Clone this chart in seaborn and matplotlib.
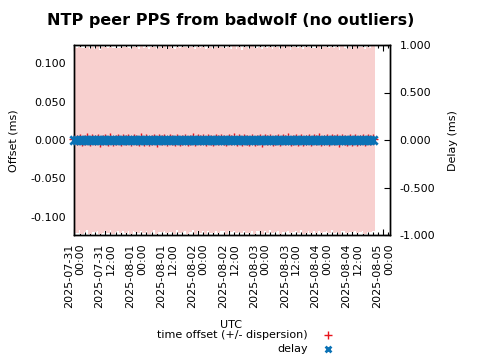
import matplotlib
matplotlib.use("Agg")
import matplotlib.pyplot as plt
import matplotlib.dates as mdates
import numpy as np
import pandas as pd
import seaborn as sns

# samples every hour, UTC
start_time = "2025-07-31 00:00"
n_samples = 117

offset_ms = [
    0.0011, -0.0006, 0.0019, -0.0014, 0.0004, 0.0022, -0.0019, 0.0008, -0.0003, 0.0015,
    -0.0021, 0.0006, 0.0013, -0.0009, 0.0020, -0.0016, 0.0002, 0.0010, -0.0012, 0.0017,
    -0.0005, 0.0009, -0.0018, 0.0014, 0.0003, -0.0011, 0.0021, -0.0007, 0.0012, -0.0015,
    0.0005, 0.0018, -0.0020, 0.0007, -0.0002, 0.0016, -0.0013, 0.0010, 0.0001, -0.0017,
    0.0019, -0.0008, 0.0006, 0.0013, -0.0010, 0.0003, 0.0020, -0.0014, 0.0008, -0.0004,
    0.0015, -0.0019, 0.0011, 0.0002, -0.0012, 0.0017, -0.0006, 0.0009, 0.0004, -0.0016,
    0.0012, -0.0003, 0.0021, -0.0010, 0.0007, -0.0018, 0.0014, 0.0000, -0.0009, 0.0018,
    -0.0013, 0.0005, 0.0016, -0.0020, 0.0010, -0.0004, 0.0019, -0.0011, 0.0003, 0.0013,
    -0.0017, 0.0008, -0.0001, 0.0020, -0.0015, 0.0006, 0.0011, -0.0008, 0.0017, -0.0019,
    0.0002, 0.0014, -0.0012, 0.0009, -0.0006, 0.0022, -0.0014, 0.0004, 0.0012, -0.0010,
    0.0018, -0.0003, 0.0007, -0.0021, 0.0015, 0.0001, -0.0016, 0.0010, -0.0007, 0.0019,
    -0.0012, 0.0005, 0.0013, -0.0018, 0.0008, -0.0002, 0.0016,
]
dispersion_ms = [
    0.1195, 0.1201, 0.1188, 0.1204, 0.1197, 0.1192, 0.1206, 0.1199, 0.1190, 0.1203,
    0.1196, 0.1208, 0.1193, 0.1200, 0.1187, 0.1205, 0.1198, 0.1191, 0.1202, 0.1194,
    0.1207, 0.1189, 0.1200, 0.1196, 0.1203, 0.1192, 0.1198, 0.1205, 0.1190, 0.1201,
    0.1197, 0.1186, 0.1204, 0.1199, 0.1193, 0.1202, 0.1195, 0.1208, 0.1191, 0.1200,
    0.1188, 0.1203, 0.1197, 0.1194, 0.1206, 0.1199, 0.1189, 0.1202, 0.1196, 0.1204,
    0.1192, 0.1200, 0.1187, 0.1205, 0.1198, 0.1193, 0.1201, 0.1195, 0.1190, 0.1206,
    0.1199, 0.1191, 0.1204, 0.1196, 0.1202, 0.1188, 0.1200, 0.1207, 0.1194, 0.1198,
    0.1203, 0.1190, 0.1197, 0.1205, 0.1192, 0.1201, 0.1186, 0.1199, 0.1204, 0.1195,
    0.1200, 0.1208, 0.1193, 0.1197, 0.1189, 0.1202, 0.1196, 0.1206, 0.1191, 0.1199,
    0.1204, 0.1194, 0.1201, 0.1187, 0.1198, 0.1205, 0.1192, 0.1200, 0.1196, 0.1203,
    0.1190, 0.1199, 0.1207, 0.1195, 0.1202, 0.1188, 0.1197, 0.1204, 0.1193, 0.1200,
    0.1196, 0.1203, 0.1191, 0.1198, 0.1205, 0.1194, 0.1201,
]
delay_ms = [
    0.0, 0.0, 0.0, 0.0, 0.0, 0.0, 0.0, 0.0, 0.0, 0.0,
    0.0, 0.0, 0.0, 0.0, 0.0, 0.0, 0.0, 0.0, 0.0, 0.0,
    0.0, 0.0, 0.0, 0.0, 0.0, 0.0, 0.0, 0.0, 0.0, 0.0,
    0.0, 0.0, 0.0, 0.0, 0.0, 0.0, 0.0, 0.0, 0.0, 0.0,
    0.0, 0.0, 0.0, 0.0, 0.0, 0.0, 0.0, 0.0, 0.0, 0.0,
    0.0, 0.0, 0.0, 0.0, 0.0, 0.0, 0.0, 0.0, 0.0, 0.0,
    0.0, 0.0, 0.0, 0.0, 0.0, 0.0, 0.0, 0.0, 0.0, 0.0,
    0.0, 0.0, 0.0, 0.0, 0.0, 0.0, 0.0, 0.0, 0.0, 0.0,
    0.0, 0.0, 0.0, 0.0, 0.0, 0.0, 0.0, 0.0, 0.0, 0.0,
    0.0, 0.0, 0.0, 0.0, 0.0, 0.0, 0.0, 0.0, 0.0, 0.0,
    0.0, 0.0, 0.0, 0.0, 0.0, 0.0, 0.0, 0.0, 0.0, 0.0,
    0.0, 0.0, 0.0, 0.0, 0.0, 0.0, 0.0,
]

times = pd.date_range(start_time, periods=n_samples, freq="1h")
x = mdates.date2num(times.to_pydatetime())
df = pd.DataFrame({"x": x, "offset": offset_ms, "disp": dispersion_ms, "delay": delay_ms})

sns.set_style("ticks")
plt.rcParams.update({
    "font.family": ["DejaVu Sans"],
    "font.size": 8,
    "axes.edgecolor": "black",
    "text.color": "black",
    "xtick.color": "black",
    "ytick.color": "black",
    "axes.linewidth": 1.0,
})

fig = plt.figure(figsize=(4.8, 3.6), dpi=100)
ax = fig.add_axes([74 / 480, 1 - 235 / 360, 316 / 480, 190 / 360])
ax2 = ax.twinx()

# dispersion band
ax.bar(df["x"], 2 * df["disp"], bottom=df["offset"] - df["disp"], width=1.3 / 24,
       color="#f8d0cf", linewidth=0, zorder=1)
sns.scatterplot(data=df, x="x", y="offset", ax=ax, marker="+", color="#e8141c",
                s=55, linewidth=1.0, zorder=2, clip_on=False,
                label="time offset (+/- dispersion)", legend=False)
sns.scatterplot(data=df, x="x", y="delay", ax=ax2, marker="x", color="#0b72b5",
                s=36, linewidth=2.0, zorder=3, clip_on=False, label="delay", legend=False)

ax.set_xlim(mdates.date2num(pd.Timestamp("2025-07-30 23:50")),
            mdates.date2num(pd.Timestamp("2025-08-05 02:40")))
ax.set_ylim(-0.1234, 0.1234)
ax2.set_ylim(-1.0, 1.0)

ax.xaxis.set_major_locator(mdates.HourLocator(byhour=[0, 12]))
ax.xaxis.set_minor_locator(mdates.HourLocator(byhour=range(0, 24, 2)))
ax.xaxis.set_major_formatter(mdates.DateFormatter("%Y-%m-%d\n%H:%M"))
ax.set_yticks([-0.1, -0.05, 0.0, 0.05, 0.1])
ax.yaxis.set_major_formatter(matplotlib.ticker.FormatStrFormatter("%.3f"))
ax2.set_yticks([-1.0, -0.5, 0.0, 0.5, 1.0])
ax2.yaxis.set_major_formatter(matplotlib.ticker.FormatStrFormatter("%.3f"))

ax.tick_params(axis="x", which="both", direction="in", top=True, bottom=True,
               labelrotation=90, pad=6)
ax.tick_params(axis="x", which="major", length=4, width=0.8)
ax.tick_params(axis="x", which="minor", length=2, width=0.8)
ax.tick_params(axis="y", direction="in", left=True, right=False, length=4, width=0.8, pad=6)
ax2.tick_params(axis="y", direction="in", right=True, length=4, width=0.8, pad=7)
for lbl in ax.get_xticklabels():
    lbl.set_multialignment("right")

ax.set_xlabel("")
ax.set_ylabel("")
ax2.set_ylabel("")

fig.text(231 / 480, 1 - 20 / 360, "NTP peer PPS from badwolf (no outliers)",
         ha="center", va="center", fontsize=11.5, fontweight="bold")
fig.text(14 / 480, 1 - 141 / 360, "Offset (ms)", rotation=90, ha="center", va="center")
fig.text(453 / 480, 1 - 141 / 360, "Delay (ms)", rotation=90, ha="center", va="center")
fig.text(231 / 480, 1 - 325 / 360, "UTC", ha="center", va="center")

handles = [ax.collections[-1], ax2.collections[-1]]
fig.legend(handles=handles, labels=["time offset (+/- dispersion)", "delay"],
           markerfirst=False, frameon=False, loc="upper center",
           bbox_to_anchor=(248 / 480, 1 - 322 / 360), fontsize=8,
           labelspacing=0.4, borderpad=0.2, handletextpad=0.8, markerscale=0.7)

fig.savefig("out.png", dpi=100)
